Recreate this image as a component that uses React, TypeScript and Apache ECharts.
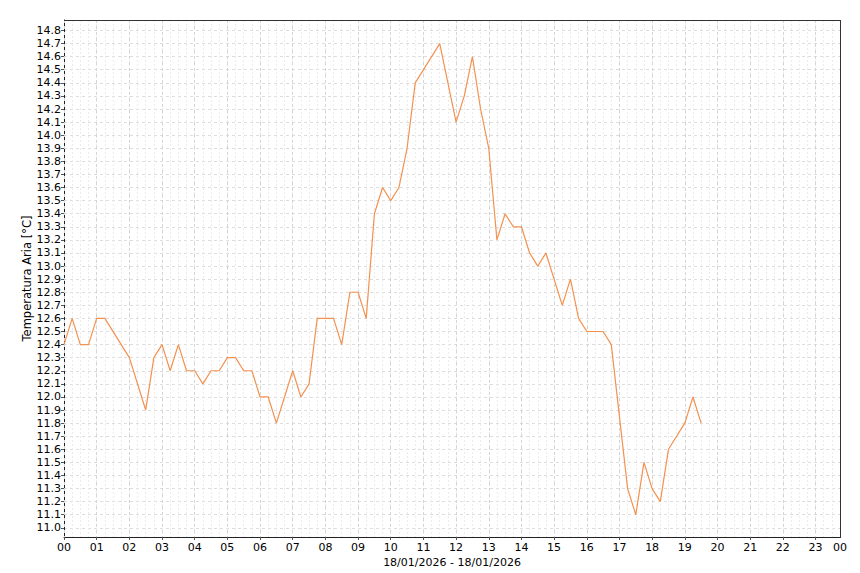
import React, { useEffect, useRef } from "react";
import * as echarts from "echarts";

// Measurement times (HH:MM) and air temperature values (°C), 18/01/2026
const times = [
  "00:00", "00:15", "00:30", "00:45", "01:00", "01:15", "02:00", "02:30", "02:45",
  "03:00", "03:15", "03:30", "03:45", "04:00", "04:15", "04:30", "04:45",
  "05:00", "05:15", "05:30", "05:45", "06:00", "06:15", "06:30", "07:00", "07:15",
  "07:30", "07:45", "08:00", "08:15", "08:30", "08:45", "09:00", "09:15", "09:30",
  "09:45", "10:00", "10:15", "10:30", "10:45", "11:30", "12:00", "12:15", "12:30",
  "12:45", "13:00", "13:15", "13:30", "13:45", "14:00", "14:15", "14:30", "14:45",
  "15:15", "15:30", "15:45", "16:00", "16:30", "16:45", "17:15", "17:30", "17:45",
  "18:00", "18:15", "18:30", "19:00", "19:15", "19:30",
];
const temps = [
  12.4, 12.6, 12.4, 12.4, 12.6, 12.6, 12.3, 11.9, 12.3,
  12.4, 12.2, 12.4, 12.2, 12.2, 12.1, 12.2, 12.2,
  12.3, 12.3, 12.2, 12.2, 12.0, 12.0, 11.8, 12.2, 12.0,
  12.1, 12.6, 12.6, 12.6, 12.4, 12.8, 12.8, 12.6, 13.4,
  13.6, 13.5, 13.6, 13.9, 14.4, 14.7, 14.1, 14.3, 14.6,
  14.2, 13.9, 13.2, 13.4, 13.3, 13.3, 13.1, 13.0, 13.1,
  12.7, 12.9, 12.6, 12.5, 12.5, 12.4, 11.3, 11.1, 11.5,
  11.3, 11.2, 11.6, 11.8, 12.0, 11.8,
];

// Axis ticks
const yTicks = [
  11.0, 11.1, 11.2, 11.3, 11.4, 11.5, 11.6, 11.7, 11.8, 11.9,
  12.0, 12.1, 12.2, 12.3, 12.4, 12.5, 12.6, 12.7, 12.8, 12.9,
  13.0, 13.1, 13.2, 13.3, 13.4, 13.5, 13.6, 13.7, 13.8, 13.9,
  14.0, 14.1, 14.2, 14.3, 14.4, 14.5, 14.6, 14.7, 14.8,
];
const hourTicks = [0, 1, 2, 3, 4, 5, 6, 7, 8, 9, 10, 11, 12, 13, 14, 15, 16, 17, 18, 19, 20, 21, 22, 23];
const xMax = 23.75;
const hourLabels = [...hourTicks, xMax];
const yMin = 10.93;
const yMax = 14.88;

const yTitle = "Temperatura Aria [°C]";
const xTitle = "18/01/2026 - 18/01/2026";

function toHours(t: string): number {
  const [h, m] = t.split(":").map(Number);
  return h + m / 60;
}

export default function App() {
  const ref = useRef<HTMLDivElement>(null);

  useEffect(() => {
    document.body.style.margin = "0";
    if (!ref.current) return;
    const chart = echarts.init(ref.current, undefined, { renderer: "svg" });
    const font = "DejaVu Sans";
    const data = times.map((t, i) => [toHours(t), temps[i]]);

    chart.setOption({
      animation: false,
      backgroundColor: "#ffffff",
      textStyle: { fontFamily: font },
      grid: {
        left: 64,
        top: 20,
        right: 20,
        bottom: 35,
        show: false,
      },
      graphic: [
        {
          type: "line",
          shape: { x1: 64, y1: 20.5, x2: 841, y2: 20.5 },
          style: { stroke: "#333333", lineWidth: 1 },
          z: 10,
        },
        {
          type: "line",
          shape: { x1: 840.5, y1: 20, x2: 840.5, y2: 538 },
          style: { stroke: "#333333", lineWidth: 1 },
          z: 10,
        },
      ],
      xAxis: [
        {
          type: "value",
          min: 0,
          max: xMax,
          position: "bottom",
          z: 1,
          name: xTitle,
          nameLocation: "middle",
          nameGap: 20,
          nameMoveOverlap: false,
          nameTextStyle: { color: "#000", fontSize: 11, fontFamily: font },
          axisLine: { show: true, lineStyle: { color: "#222", width: 1 } },
          axisTick: { show: true, length: 3, customValues: hourTicks, lineStyle: { color: "#555" } },
          axisLabel: {
            customValues: hourLabels,
            color: "#000",
            fontSize: 11,
            fontFamily: font,
            margin: 5,
            formatter: (v: number) => (v > 23.5 ? "00" : String(Math.round(v)).padStart(2, "0")),
          },
          splitLine: { show: true, lineStyle: { color: "#d4d4d4", type: [3, 3], width: 1 } },
        },
        {
          type: "value",
          min: 0,
          max: xMax,
          interval: 0.25,
          position: "bottom",
          z: 0,
          axisLine: { show: false },
          axisTick: { show: false },
          axisLabel: { show: false },
          splitLine: { show: true, lineStyle: { color: "#ebebeb", type: [2, 2], width: 1 } },
        },
      ],
      yAxis: {
        type: "value",
        min: yMin,
        max: yMax,
        name: yTitle,
        nameLocation: "middle",
        nameGap: 31,
        nameMoveOverlap: false,
        nameTextStyle: { color: "#000", fontSize: 11.5, fontFamily: font },
        axisLine: { show: true, lineStyle: { color: "#222", width: 1 } },
        axisTick: { show: true, length: 3, customValues: yTicks, lineStyle: { color: "#555" } },
        axisLabel: {
          customValues: yTicks,
          color: "#000",
          fontSize: 11,
          fontFamily: font,
          margin: 3,
          formatter: (v: number) => v.toFixed(1),
        },
        splitLine: { show: true, lineStyle: { color: "#dddddd", type: [3, 3], width: 1 } },
      },
      series: [
        {
          type: "line",
          xAxisIndex: 0,
          data,
          showSymbol: false,
          symbol: "none",
          lineStyle: { color: "#f39150", width: 1.2 },
          z: 3,
        },
      ],
    });

    return () => chart.dispose();
  }, []);

  return <div ref={ref} style={{ width: 860, height: 573 }} />;
}
